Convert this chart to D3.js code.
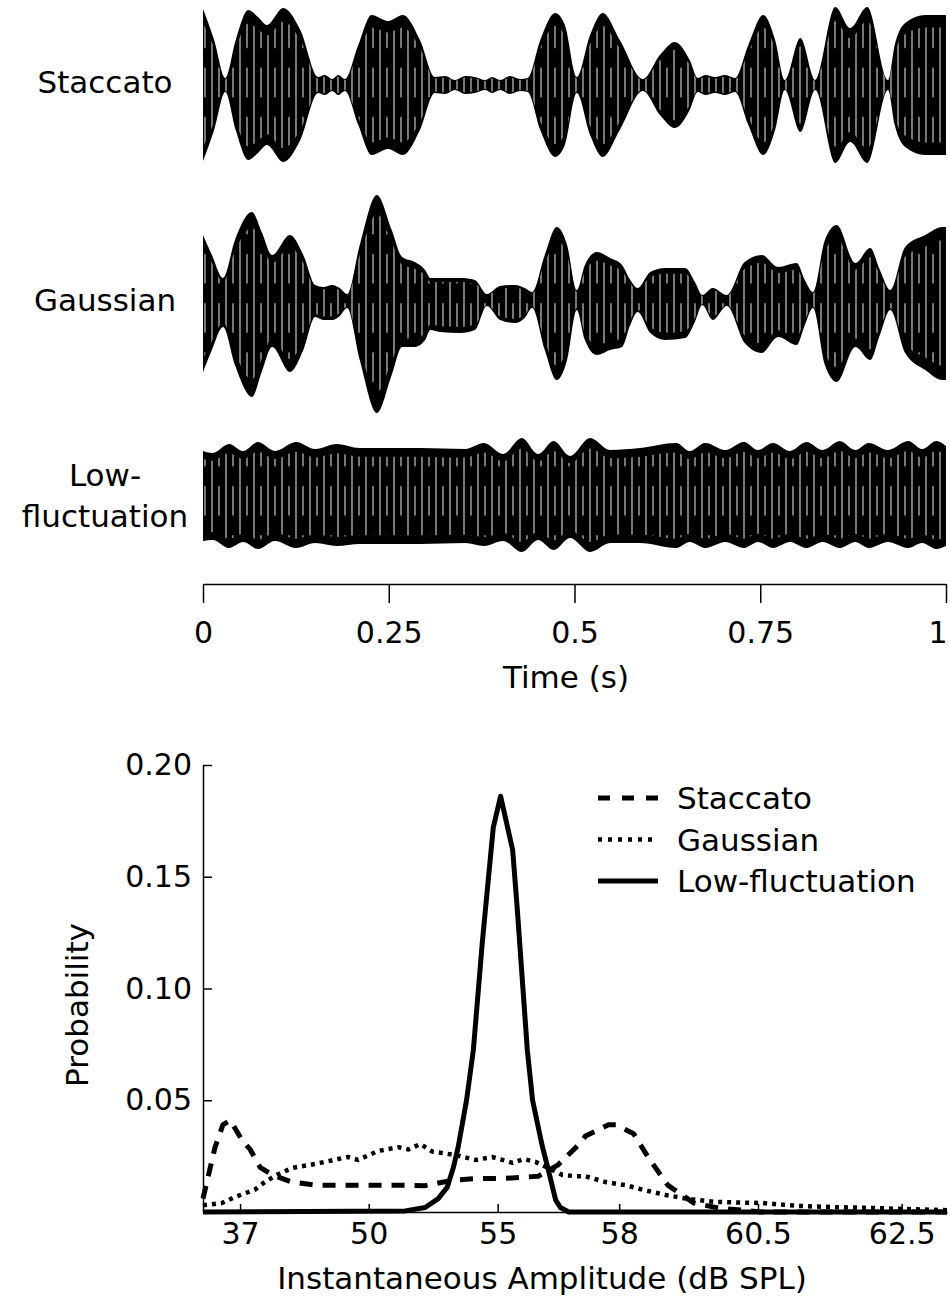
<!DOCTYPE html>
<html>
<head>
<meta charset="utf-8">
<script src="https://cdn.jsdelivr.net/npm/d3@7"></script>
<style>
body { margin: 0; background: #fff; }
text { font-family: "DejaVu Sans", sans-serif; fill: #000; }
</style>
</head>
<body>
<div id="chart"></div>
<script>
var width = 950;
var height = 1300;

// ---- top panel: envelopes of the three signals (time in s, amplitude in arbitrary units)
var staccatoT  = [0, .015, .03, .044, .061, .074, .086, .108, .131, .155, .164, .174, .182, .191, .209, .227, .249, .269, .292, .312,
                  .326, .339, .353, .366, .38, .389, .4, .413, .427, .437, .454, .474, .487, .503, .521, .538, .561, .592, .615, .635,
                  .655, .666, .676, .689, .703, .716, .734, .754, .77, .783, .804, .824, .851, .871, .894, .922, .931, .945, .972, 1];
var staccatoA  = [.76, .45, .07, .45, .75, .68, .60, .77, .55, .08, .10, .06, .10, .06, .40, .70, .64, .70, .45, .08,
                  .09, .05, .09, .08, .05, .08, .05, .09, .06, .07, .45, .72, .60, .08, .50, .72, .45, .06, .30, .43,
                  .25, .07, .10, .08, .10, .07, .40, .70, .45, .05, .47, .05, .78, .57, .78, .05, .40, .62, .70, .70];

var gaussianT  = [0, .012, .027, .043, .066, .079, .093, .117, .135, .151, .162, .174, .184, .194, .211, .234, .254, .268, .285, .299,
                  .306, .319, .346, .366, .382, .4, .42, .433, .443, .46, .476, .49, .503, .514, .53, .548, .564, .575, .585, .602,
                  .622, .649, .662, .672, .686, .705, .729, .752, .774, .799, .81, .821, .837, .853, .878, .898, .911, .925, .945, .972, .995, 1];
var gaussianUp = [.65, .45, .22, .60, .88, .68, .45, .65, .45, .15, .13, .15, .12, .06, .55, 1.05, .70, .43, .38, .30,
                  .22, .22, .22, .20, .06, .14, .15, .12, .08, .45, .73, .55, .10, .35, .48, .42, .35, .20, .12, .28,
                  .32, .32, .18, .05, .12, .05, .38, .45, .33, .37, .20, .08, .60, .75, .37, .52, .30, .10, .53, .65, .73, .73];
var gaussianLo = [.72, .50, .27, .65, .97, .72, .47, .72, .50, .17, .20, .20, .16, .08, .60, 1.13, .75, .47, .47, .40,
                  .30, .32, .33, .30, .06, .20, .23, .18, .08, .50, .80, .60, .10, .40, .55, .50, .47, .25, .12, .33,
                  .40, .38, .22, .05, .20, .06, .43, .53, .37, .45, .25, .08, .65, .82, .47, .60, .35, .10, .53, .70, .80, .80];

var lowflucT   = [0, .013, .035, .054, .074, .097, .125, .151, .18, .211, .292, .353, .378, .404, .429, .451, .472, .494, .521, .548,
                  .588, .637, .655, .676, .703, .728, .747, .767, .79, .812, .834, .857, .878, .896, .922, .949, .968, .987, 1];
var lowflucUp  = [.45, .43, .52, .45, .54, .45, .54, .47, .52, .48, .48, .47, .53, .42, .58, .42, .55, .40, .58, .46,
                  .48, .53, .45, .53, .46, .54, .46, .53, .45, .54, .46, .55, .46, .53, .46, .55, .47, .55, .50];
var lowflucLo  = [.45, .44, .52, .46, .53, .45, .52, .47, .50, .48, .48, .47, .50, .45, .56, .44, .54, .42, .56, .47,
                  .47, .52, .46, .52, .46, .52, .46, .52, .46, .52, .46, .52, .46, .52, .46, .52, .47, .53, .50];

var timeTicks = [0, 0.25, 0.5, 0.75, 1];

// ---- bottom panel: probability vs instantaneous amplitude
// amplitude given as linear pressure re 20 uPa (axis is linear in pressure, labelled in dB)
var staccatoP    = [0, 13, 23, 38, 52, 75, 90, 109, 132, 170, 214, 271, 329, 380, 424, 478, 526, 572, 621, 640,
                    677, 686, 721, 730, 774, 788, 822, 851, 887, 937, 984, 1065, 1420];
var staccatoProb = [.006, .019, .029, .039, .041, .032, .028, .020, .0166, .0134, .012, .012, .012, .012, .0118, .0143, .015, .015, .0157, .016,
                    .021, .023, .031, .034, .039, .039, .035, .024, .012, .004, .0018, 0, 0];

var gaussianP    = [0, 36, 61, 99, 118, 141, 170, 214, 258, 277, 296, 334, 373, 392, 415, 438, 482, 520, 552, 591,
                    612, 635, 686, 711, 730, 768, 807, 839, 883, 927, 979, 1068, 1137, 1202, 1279, 1342, 1420];
var gaussianProb = [.003, .004, .0067, .010, .0134, .0166, .0197, .0215, .0237, .0246, .0233, .0273, .029, .028, .0304, .027, .0255, .0233, .0246, .022,
                    .0237, .0224, .0166, .016, .016, .0134, .012, .010, .0076, .0058, .0045, .004, .0027, .0022, .0018, .0013, .0008];

var lowflucP     = [0, 386, 424, 449, 466, 478, 487, 503, 516, 533, 554, 568, 591, 600, 619, 629, 648, 659, 673, 682, 698, 1420];
var lowflucProb  = [0, .0005, .002, .006, .011, .020, .029, .05, .0725, .1204, .172, .186, .162, .135, .0725, .05, .029, .019, .0054, .002, 0, 0];

var dbTicks   = [37, 50, 55, 58, 60.5, 62.5];
var probTicks = [0.05, 0.10, 0.15, 0.20];

var svg = d3.select("#chart").append("svg")
    .attr("width", width)
    .attr("height", height);

// stripe texture for the waveforms
var defs = svg.append("defs");
var pat = defs.append("pattern")
    .attr("id", "stripes")
    .attr("patternUnits", "userSpaceOnUse")
    .attr("width", 14).attr("height", 60);
pat.append("line").attr("x1", 2).attr("x2", 2).attr("y1", 0).attr("y2", 60)
    .attr("stroke", "#d8d8d8").attr("stroke-width", 1.1);
pat.append("line").attr("x1", 9).attr("x2", 9).attr("y1", 4).attr("y2", 40)
    .attr("stroke", "#d8d8d8").attr("stroke-width", 1.1);

// ---------------- top panel
var xTime = d3.scaleLinear().domain([0, 1]).range([203, 946]);

var rows = [
  {t: staccatoT, up: staccatoA,  lo: staccatoA,  cy: 85,  label: ["Staccato"],            ly: [93]},
  {t: gaussianT, up: gaussianUp, lo: gaussianLo, cy: 300, label: ["Gaussian"],            ly: [311]},
  {t: lowflucT,  up: lowflucUp,  lo: lowflucLo,  cy: 496, label: ["Low-", "fluctuation"], ly: [486, 527]}
];

rows.forEach(function(r) {
  var y = d3.scaleLinear().domain([-1, 1]).range([r.cy + 100, r.cy - 100]);
  var pts = r.t.map(function(t, i) { return {t: t, up: r.up[i], lo: r.lo[i]}; });
  var area = d3.area()
      .x(d => xTime(d.t))
      .y0(d => y(-d.lo))
      .y1(d => y(d.up))
      .curve(d3.curveMonotoneX);

  var g = svg.append("g");
  g.append("path").attr("d", area(pts)).attr("fill", "#000");
  g.append("path").attr("d", area(pts)).attr("fill", "url(#stripes)")
      .attr("transform", `translate(0,${r.cy}) scale(1,0.82) translate(0,${-r.cy})`);

  r.label.forEach(function(s, i) {
    svg.append("text")
        .attr("x", 105).attr("y", r.ly[i])
        .attr("text-anchor", "middle")
        .style("font-size", "31px")
        .text(s);
  });
});

var timeAxis = svg.append("g")
    .attr("transform", "translate(0,584)")
    .call(d3.axisBottom(xTime)
        .tickValues(timeTicks)
        .tickFormat(d3.format(""))
        .tickSize(19)
        .tickSizeOuter(0)
        .tickPadding(19));
timeAxis.selectAll("path, line").attr("stroke", "#000").attr("stroke-width", 1.5);
timeAxis.selectAll("text").style("font-size", "30px").style("font-family", "DejaVu Sans");
// keep the last label inside the picture
timeAxis.selectAll(".tick").filter(d => d === 1).select("text")
    .attr("text-anchor", "end").attr("dx", "1");

svg.append("text")
    .attr("x", 566).attr("y", 688)
    .attr("text-anchor", "middle")
    .style("font-size", "31px")
    .text("Time (s)");

// ---------------- bottom panel
var xAmp = d3.scaleLinear().domain([0, 1420]).range([203, 947]);
var yProb = d3.scaleLinear().domain([0, 0.2]).range([1212, 765]);

var xAxis = svg.append("g")
    .attr("transform", "translate(0,1212)")
    .call(d3.axisBottom(xAmp)
        .tickValues(dbTicks.map(db => Math.pow(10, db / 20)))
        .tickFormat((d, i) => dbTicks[i])
        .tickSize(-8)
        .tickSizeOuter(0)
        .tickPadding(11));

var yAxis = svg.append("g")
    .attr("transform", "translate(203,0)")
    .call(d3.axisLeft(yProb)
        .tickValues(probTicks)
        .tickFormat(d3.format(".2f"))
        .tickSize(-9)
        .tickSizeOuter(0)
        .tickPadding(11));

[xAxis, yAxis].forEach(function(a) {
  a.selectAll("path, line").attr("stroke", "#000").attr("stroke-width", 1.5);
  a.selectAll("text").style("font-size", "30px").style("font-family", "DejaVu Sans");
});

var series = [
  {name: "Staccato",        p: staccatoP, prob: staccatoProb, dash: "13,10", w: 5},
  {name: "Gaussian",        p: gaussianP, prob: gaussianProb, dash: "4,5",   w: 4.5},
  {name: "Low-fluctuation", p: lowflucP,  prob: lowflucProb,  dash: null,    w: 5}
];

var line = d3.line()
    .x(d => xAmp(d[0]))
    .y(d => yProb(d[1]));

series.forEach(function(s) {
  svg.append("path")
      .attr("d", line(s.p.map((v, i) => [v, s.prob[i]])))
      .attr("fill", "none")
      .attr("stroke", "#000")
      .attr("stroke-width", s.w)
      .attr("stroke-linejoin", "round")
      .attr("stroke-dasharray", s.dash);
});

// legend
var legend = svg.append("g");
series.forEach(function(s, i) {
  var yy = 798 + i * 41.5;
  legend.append("line")
      .attr("x1", 598).attr("x2", 658)
      .attr("y1", yy).attr("y2", yy)
      .attr("stroke", "#000")
      .attr("stroke-width", s.w)
      .attr("stroke-dasharray", s.dash ? (i === 0 ? "12,12" : "4,6") : null);
  legend.append("text")
      .attr("x", 677).attr("y", yy + 11)
      .style("font-size", "31px")
      .text(s.name);
});

svg.append("text")
    .attr("transform", "translate(88,1005) rotate(-90)")
    .attr("text-anchor", "middle")
    .style("font-size", "31px")
    .text("Probability");

svg.append("text")
    .attr("x", 542).attr("y", 1289)
    .attr("text-anchor", "middle")
    .style("font-size", "31px")
    .text("Instantaneous Amplitude (dB SPL)");
</script>
</body>
</html>
